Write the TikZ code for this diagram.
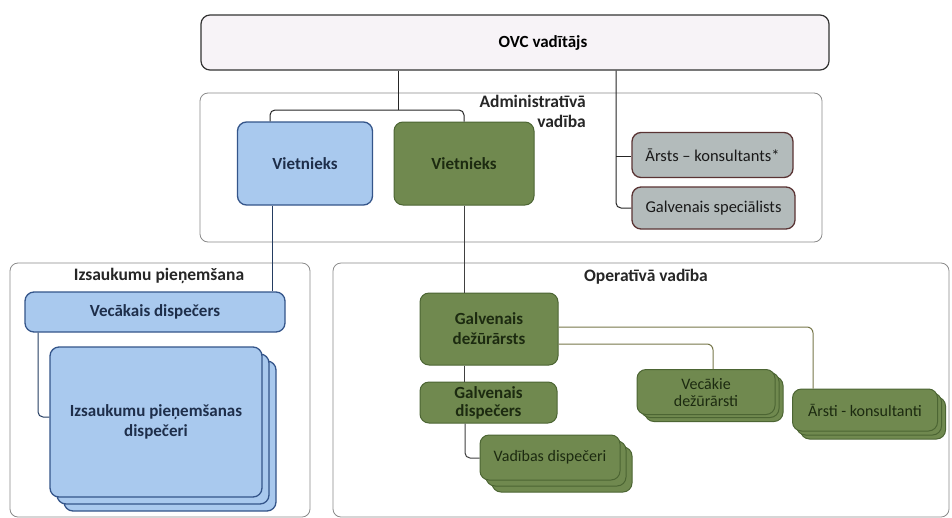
\documentclass[tikz,border=0pt]{standalone}
\usepackage{fontspec}
\setmainfont{Carlito}
\definecolor{bluefill}{HTML}{A9C9EE}
\definecolor{blueedge}{HTML}{34558A}
\definecolor{bluetext}{HTML}{1E2E4A}
\definecolor{greenfill}{HTML}{70894F}
\definecolor{greenedge}{HTML}{4C6533}
\definecolor{greentext}{HTML}{1C2A10}
\definecolor{grayfill}{HTML}{B3BBBB}
\definecolor{grayedge}{HTML}{5A3434}
\definecolor{topfill}{HTML}{F7F3F7}
\definecolor{contedge}{HTML}{8A8A8A}
\definecolor{olive}{HTML}{77774A}
\begin{document}
\begin{tikzpicture}[x=1pt,y=-1pt,
  every node/.style={font=\bfseries\fontsize{17}{17}\selectfont, align=center, inner sep=0pt},
  container/.style={draw=contedge, line width=0.8pt, rounded corners=8pt, fill=white},
  topbox/.style={draw=black!80, line width=1.2pt, fill=topfill, rounded corners=9pt},
  bluebox/.style={draw=blueedge, line width=1.3pt, fill=bluefill, rounded corners=9pt, text=bluetext},
  greenbox/.style={draw=greenedge, line width=1pt, fill=greenfill, rounded corners=9pt, text=greentext},
  graybox/.style={draw=grayedge, line width=1.3pt, fill=grayfill, rounded corners=9pt, text=black!90, font=\fontsize{16.5}{17}\selectfont},
  conn/.style={draw=black!85, line width=1pt, rounded corners=5pt},
  bconn/.style={draw=blueedge!70!black, line width=1pt, rounded corners=5pt},
  gconn/.style={draw=black!75, line width=1pt, rounded corners=5pt},
  oconn/.style={draw=olive, line width=1pt, rounded corners=6pt},
  stacktext/.style={font=\fontsize{16}{17}\selectfont},
  title/.style={font=\bfseries\fontsize{17.5}{20}\selectfont, text=black!85}
]
\useasboundingbox (0,0) rectangle (952,517);
\fill[white] (0,0) rectangle (952,517);

% containers
\node[container, minimum width=622pt, minimum height=149pt] (admin) at (511,167.5) {};
\node[container, minimum width=300pt, minimum height=254pt] (izscont) at (160,390) {};
\node[container, minimum width=616pt, minimum height=254pt] (opcont) at (641,390) {};

\node[title, anchor=north east, align=right] (admintitle) at (586,95) {Administratīvā\\vadība};
\node[title] (izstitle) at (159,276) {Izsaukumu pieņemšana};
\node[title] (optitle) at (646,277) {Operatīvā vadība};

% top
\node[topbox, minimum width=628pt, minimum height=55pt] (top) at (515,42.5) {};
\node (toptext) at (543,43) {OVC vadītājs};

% deputies
\node[bluebox, minimum width=135pt, minimum height=83pt] (vblue) at (305,163.5) {Vietnieks};
\node[greenbox, minimum width=140pt, minimum height=83pt] (vgreen) at (464,163.5) {Vietnieks};

% gray boxes
\node[graybox, minimum width=161pt, minimum height=45pt] (arsts) at (712.5,155) {Ārsts – konsultants*};
\node[graybox, minimum width=163pt, minimum height=42pt] (galvspec) at (713.5,208) {Galvenais speciālists};

% connectors top
\coordinate (tb1) at (398,110);
\draw[conn] (top.south -| tb1) -- (tb1);
\draw[conn] (vblue.north -| 270,0) -- (270,110) -- (464,110) -- (vgreen.north -| 464,0);
\draw[conn] (top.south -| 616,0) -- (616,208) -- (galvspec.west |- 0,208);
\draw[conn] (616,156) -- (arsts.west |- 0,156);

% left section
\node[bluebox, minimum width=260pt, minimum height=40pt] (vecdisp) at (155,312) {Vecākais dispečers};
\node[bluebox, minimum width=212pt, minimum height=150pt] (izs3) at (170,436) {};
\node[bluebox, minimum width=212pt, minimum height=150pt] (izs2) at (163,429) {};
\node[bluebox, minimum width=212pt, minimum height=150pt, font=\bfseries\fontsize{17}{20}\selectfont] (izs1) at (156,422) {Izsaukumu pieņemšanas\\dispečeri};

\draw[bconn] (vblue.south -| 272,0) -- (vecdisp.north -| 272,0);
\draw[bconn] (vecdisp.south -| 38,0) -- (38,417) -- (izs1.west |- 0,417);

% operative
\node[greenbox, minimum width=138pt, minimum height=72pt, font=\bfseries\fontsize{17}{20}\selectfont] (galvdez) at (489,329) {Galvenais\\dežūrārsts};
\node[greenbox, minimum width=137pt, minimum height=41pt, font=\bfseries\fontsize{17}{18}\selectfont] (galvdisp) at (488.5,402.5) {Galvenais\\dispečers};

\node[greenbox, minimum width=138pt, minimum height=45pt] (vec3) at (714,399) {};
\node[greenbox, minimum width=138pt, minimum height=45pt] (vec2) at (710,395) {};
\node[greenbox, minimum width=138pt, minimum height=45pt, stacktext] (vec1) at (706,392) {Vecākie\\dežūrārsti};

\node[greenbox, minimum width=145pt, minimum height=42pt] (ars3) at (873,418) {};
\node[greenbox, minimum width=145pt, minimum height=42pt] (ars2) at (869,414) {};
\node[greenbox, minimum width=145pt, minimum height=42pt, stacktext] (ars1) at (865,410) {Ārsti - konsultanti};

\node[greenbox, minimum width=140pt, minimum height=45pt] (vad3) at (562,469.5) {};
\node[greenbox, minimum width=140pt, minimum height=45pt] (vad2) at (556,463.5) {};
\node[greenbox, minimum width=140pt, minimum height=45pt, stacktext] (vad1) at (550,457.5) {Vadības dispečeri};

\draw[gconn] (vgreen.south -| 464,0) -- (galvdez.north -| 464,0);
\draw[gconn] (galvdez.south -| 464,0) -- (galvdisp.north -| 464,0);
\draw[gconn] (galvdisp.south -| 465,0) -- (465,458) -- (vad1.west |- 0,458);
\draw[oconn] (galvdez.east |- 0,327) -- (813,327) -- (ars1.north -| 813,0);
\draw[oconn] (galvdez.east |- 0,344) -- (713,344) -- (vec1.north -| 713,0);
\end{tikzpicture}
\end{document}
